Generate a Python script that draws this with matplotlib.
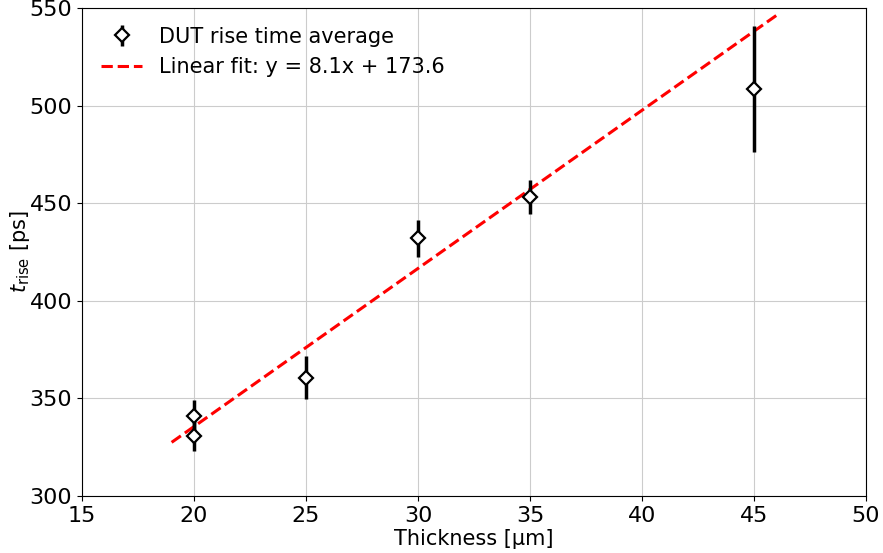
import matplotlib
matplotlib.use("Agg")
import matplotlib.pyplot as plt
import numpy as np

thickness = [20, 20, 25, 30, 35, 45]
rise_time = [341, 331, 360.5, 432, 453, 508.5]
rise_err = [8, 8, 11, 9.5, 8.7, 32.5]
fit_slope = 8.1
fit_intercept = 173.6
fit_range = [19, 46]

plt.rcParams['font.size'] = 16
fig = plt.figure(figsize=(8.83, 5.53), dpi=100)
ax = fig.add_axes([0.0929, 0.1030, 0.8878, 0.8825])

eb = ax.errorbar(thickness, rise_time, yerr=rise_err, fmt='D', color='black',
                 mfc='white', mec='black', ms=7.5, mew=1.6, elinewidth=2.5,
                 label='DUT rise time average', zorder=3)
xf = np.linspace(fit_range[0], fit_range[1], 100)
ln, = ax.plot(xf, fit_slope * xf + fit_intercept, 'r--', lw=2.2,
              label=f'Linear fit: y = {fit_slope}x + {fit_intercept}', zorder=2)

ax.set_xlim(15, 50)
ax.set_ylim(300, 550)
ax.set_xticks(range(15, 51, 5))
ax.set_yticks(range(300, 551, 50))
ax.grid(True, color='#cccccc', lw=0.8)
ax.set_axisbelow(True)
ax.set_xlabel('Thickness [μm]', labelpad=2, fontsize=15)
ax.set_ylabel(r'$t_{\rm rise}$ [ps]', labelpad=-2, fontsize=15)
ax.legend([eb, ln], [eb.get_label(), ln.get_label()], loc='upper left',
          frameon=False, fontsize=15)

fig.savefig('out.png', dpi=100)
